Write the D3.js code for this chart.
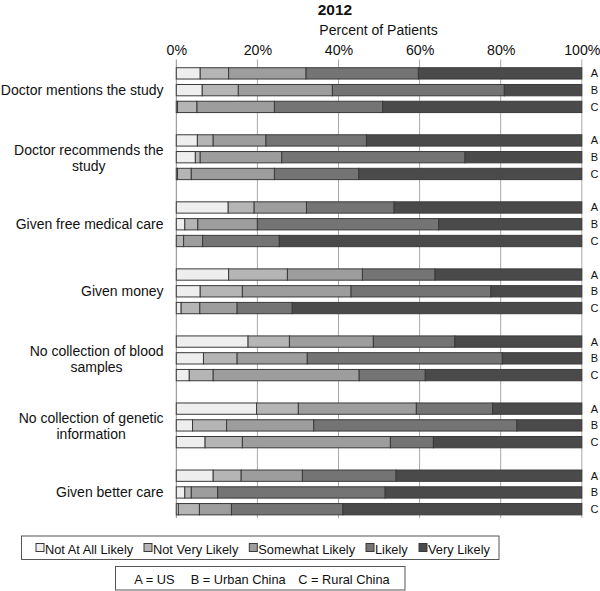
<!DOCTYPE html>
<html><head><meta charset="utf-8">
<script src="https://cdn.jsdelivr.net/npm/d3@7"></script>
<style>body{margin:0;background:#fff}svg{display:block;font-family:"Liberation Sans",Arial,sans-serif}</style>
</head><body>
<script>
const groups = ["Doctor mentions the study","Doctor recommends the study","Given free medical care","Given money","No collection of blood samples","No collection of genetic information","Given better care"];
const groupLines = [["Doctor mentions the study"],["Doctor recommends the","study"],["Given free medical care"],["Given money"],["No collection of blood","samples"],["No collection of genetic","information"],["Given better care"]];
const rows = ["A","B","C"];
const categories = ["Not At All Likely","Not Very Likely","Somewhat Likely","Likely","Very Likely"];
// values per group, per row A/B/C: [NotAtAll, NotVery, Somewhat, Likely, Very]
const doctorMentions = [[5.9,7.0,19.1,27.7,40.3],[6.4,8.9,23.2,42.4,19.1],[0.3,4.8,19.1,26.7,49.1]];
const doctorRecommends = [[5.2,3.9,13.0,24.8,53.1],[4.7,1.2,20.1,45.2,28.8],[0.3,3.4,20.5,20.8,55.0]];
const freeCare = [[12.8,6.4,12.9,21.6,46.3],[2.1,3.2,14.7,44.7,35.3],[0,1.8,4.7,18.9,74.6]];
const givenMoney = [[12.9,14.5,18.5,17.9,36.2],[5.9,10.4,26.8,34.5,22.4],[1.2,4.6,9.2,13.6,71.4]];
const noBlood = [[17.7,10.2,20.7,20.1,31.3],[6.7,8.3,17.3,48.1,19.6],[3.2,5.9,36.0,16.3,38.6]];
const noGenetic = [[19.8,10.3,29.1,18.8,22.0],[4.0,8.4,21.5,50.1,16.0],[7.1,9.2,36.5,10.6,36.6]];
const betterCare = [[9.1,6.9,15.1,23.1,45.8],[2.1,1.6,6.5,41.3,48.5],[0.5,5.2,7.9,27.5,58.9]];
const seriesValues = [doctorMentions,doctorRecommends,freeCare,givenMoney,noBlood,noGenetic,betterCare];
const xTicks = [0,20,40,60,80,100];
const legend2 = ["A = US","B = Urban China","C = Rural China"];

const W=600,H=591;
const colors = ["#eeeeee","#b5b5b5","#9d9d9d","#747474","#4a4a4a"];
const svg = d3.select("body").append("svg").attr("width",W).attr("height",H);
const x = d3.scaleLinear().domain([0,100]).range([176.3,581.8]);
const plotTop=59.5, plotBottom=518;
const yG = d3.scaleBand().domain(groups).range([65,65+67.05*7]);
const yR = d3.scaleBand().domain(["A","B","C","_"]).range([0,67.05]).paddingInner(0.325).paddingOuter(0.1625);

// gridlines
svg.append("g").selectAll("line").data(xTicks).join("line")
  .attr("x1",d=>x(d)).attr("x2",d=>x(d)).attr("y1",plotTop).attr("y2",plotBottom)
  .attr("stroke",d=>d===0?"#8a8a8a":"#a8a8a8").attr("stroke-width",1);

// top axis
const ax = d3.axisTop(x).tickValues(xTicks).tickFormat(d=>d+"%").tickSize(0).tickPadding(0);
const axG = svg.append("g").attr("transform",`translate(0,55)`).call(ax);
axG.select(".domain").remove();
axG.selectAll("text").attr("font-size",14.2).attr("fill","#111").attr("font-family","Liberation Sans, Arial, sans-serif").attr("dy",0);

// bars
const gSel = svg.append("g").selectAll("g").data(groups).join("g")
  .attr("transform",d=>`translate(0,${yG(d)})`);
gSel.each(function(gname,gi){
  const g = d3.select(this);
  rows.forEach((r,ri)=>{
    const vals = seriesValues[gi][ri];
    let cum=0;
    const segs = vals.map((v,ci)=>{const s={x0:cum,x1:cum+v,ci}; cum+=v; return s;});
    g.append("g").selectAll("rect").data(segs.filter(s=>s.x1-s.x0>0)).join("rect")
      .attr("x",s=>x(s.x0)).attr("width",s=>x(s.x1)-x(s.x0))
      .attr("y",yR(r)).attr("height",yR.bandwidth())
      .attr("fill",s=>colors[s.ci]).attr("stroke","#3a3a3a").attr("stroke-width",1);
    g.append("text").attr("x",594.5).attr("y",yR(r)+yR.bandwidth()/2+4)
      .attr("text-anchor","middle").attr("font-size",11).attr("fill","#111").text(r);
  });
  const lines = groupLines[gi];
  const cy = yR("B")+yR.bandwidth()/2;
  if (lines.length===1){
    g.append("text").attr("x",163.5).attr("y",cy+5)
      .attr("text-anchor","end").attr("font-size",14).attr("fill","#111").text(lines[0]);
  } else {
    const t1 = g.append("text").attr("font-size",14).attr("fill","#111").attr("text-anchor","middle").text(lines[0]);
    const w = t1.node().getComputedTextLength();
    const cx = 163.5 - w/2;
    t1.attr("x",cx).attr("y",cy-2);
    g.append("text").attr("font-size",14).attr("fill","#111").attr("text-anchor","middle")
      .attr("x",cx).attr("y",cy+13.5).text(lines[1]);
  }
});

// titles
svg.append("text").attr("x",335).attr("y",14.5).attr("text-anchor","middle").attr("font-size",15.5).attr("font-weight","bold").attr("fill","#111").text("2012");
svg.append("text").attr("x",378.5).attr("y",34.5).attr("text-anchor","middle").attr("font-size",14).attr("fill","#111").text("Percent of Patients");

// legend 1
svg.append("rect").attr("x",21.5).attr("y",536).attr("width",477.5).attr("height",23.5).attr("fill","#fff").attr("stroke","#555");
const legX = [36,144,249.3,366,419];
categories.forEach((c,i)=>{
  svg.append("rect").attr("x",legX[i]).attr("y",543.5).attr("width",8).attr("height",8).attr("fill",colors[i]).attr("stroke","#3a3a3a");
  svg.append("text").attr("x",legX[i]+9).attr("y",553.5).attr("font-size",12.8).attr("fill","#111").text(c);
});
// legend 2
svg.append("rect").attr("x",115.5).attr("y",566.5).attr("width",289.5).attr("height",23.5).attr("fill","#fff").attr("stroke","#555");
const leg2X=[134.3,190.7,298.3];
legend2.forEach((t,i)=>{
  svg.append("text").attr("x",leg2X[i]).attr("y",584).attr("font-size",12.8).attr("fill","#111").text(t);
});
</script>
</body></html>
